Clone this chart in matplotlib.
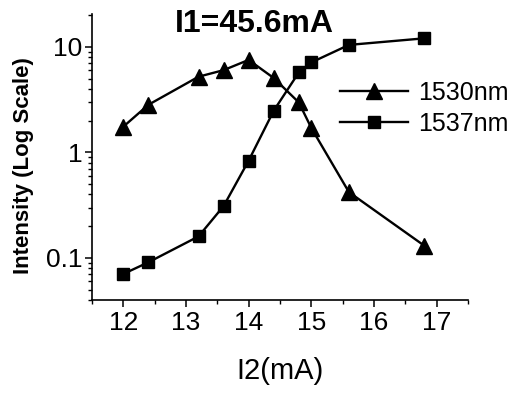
import numpy as np
import matplotlib.pyplot as plt
from matplotlib.ticker import LogLocator, NullFormatter, MultipleLocator

plt.rcParams['font.family'] = ['Liberation Sans', 'DejaVu Sans']

# data
i2 = [12.0, 12.4, 13.2, 13.6, 14.0, 14.4, 14.8, 15.0, 15.6, 16.8]
int_1530 = [1.75, 2.82, 5.2, 6.0, 7.5, 5.05, 2.97, 1.70, 0.42, 0.131]
int_1537 = [0.0706, 0.091, 0.16, 0.31, 0.835, 2.48, 5.7, 7.1, 10.4, 12.0]
labels = ['1530nm', '1537nm']
xticks = [12, 13, 14, 15, 16, 17]
yticks = [0.1, 1, 10]
ytick_labels = ['0.1', '1', '10']

fig = plt.figure(figsize=(5.13, 3.94), dpi=100)
ax = fig.add_axes([92/513, 1-300/394, 376/513, 286/394])

ax.plot(i2, int_1530, color='black', lw=1.7, marker='^', ms=12, label=labels[0])
ax.plot(i2, int_1537, color='black', lw=1.7, marker='s', ms=9, label=labels[1])

ax.set_yscale('log')
ax.set_xlim(11.5, 17.5)
ax.set_ylim(0.04, 20.4)

ax.set_xticks(xticks)
ax.xaxis.set_minor_locator(MultipleLocator(0.5))
ax.set_yticks(yticks)
ax.set_yticklabels(ytick_labels)
ax.yaxis.set_minor_locator(LogLocator(base=10, subs=np.arange(2, 10)))
ax.yaxis.set_minor_formatter(NullFormatter())

for s in ['top', 'right']:
    ax.spines[s].set_visible(False)
for s in ['left', 'bottom']:
    ax.spines[s].set_linewidth(1.2)

ax.tick_params(which='major', direction='out', length=5, width=1.1, labelsize=19)
ax.tick_params(which='minor', direction='out', length=3, width=1.0)
ax.tick_params(axis='x', which='major', pad=3)
ax.tick_params(axis='y', which='major', pad=2)

ax.set_xlabel('I2(mA)', fontsize=21)
ax.xaxis.set_label_coords(0.5, -0.2)
ax.set_ylabel('Intensity (Log Scale)', fontsize=16, fontweight='bold')
ax.yaxis.set_label_coords(-0.155, 0.469)

fig.text(254/513, 1-32/394, 'I1=45.6mA', fontsize=23, fontweight='bold',
         ha='center', va='baseline')

ax.legend(loc='center left', bbox_to_anchor=(0.66, 0.67), frameon=False,
          fontsize=18, handlelength=2.7, handletextpad=0.4, labelspacing=0.3,
          borderpad=0, borderaxespad=0)

plt.savefig('out.png', dpi=100)
